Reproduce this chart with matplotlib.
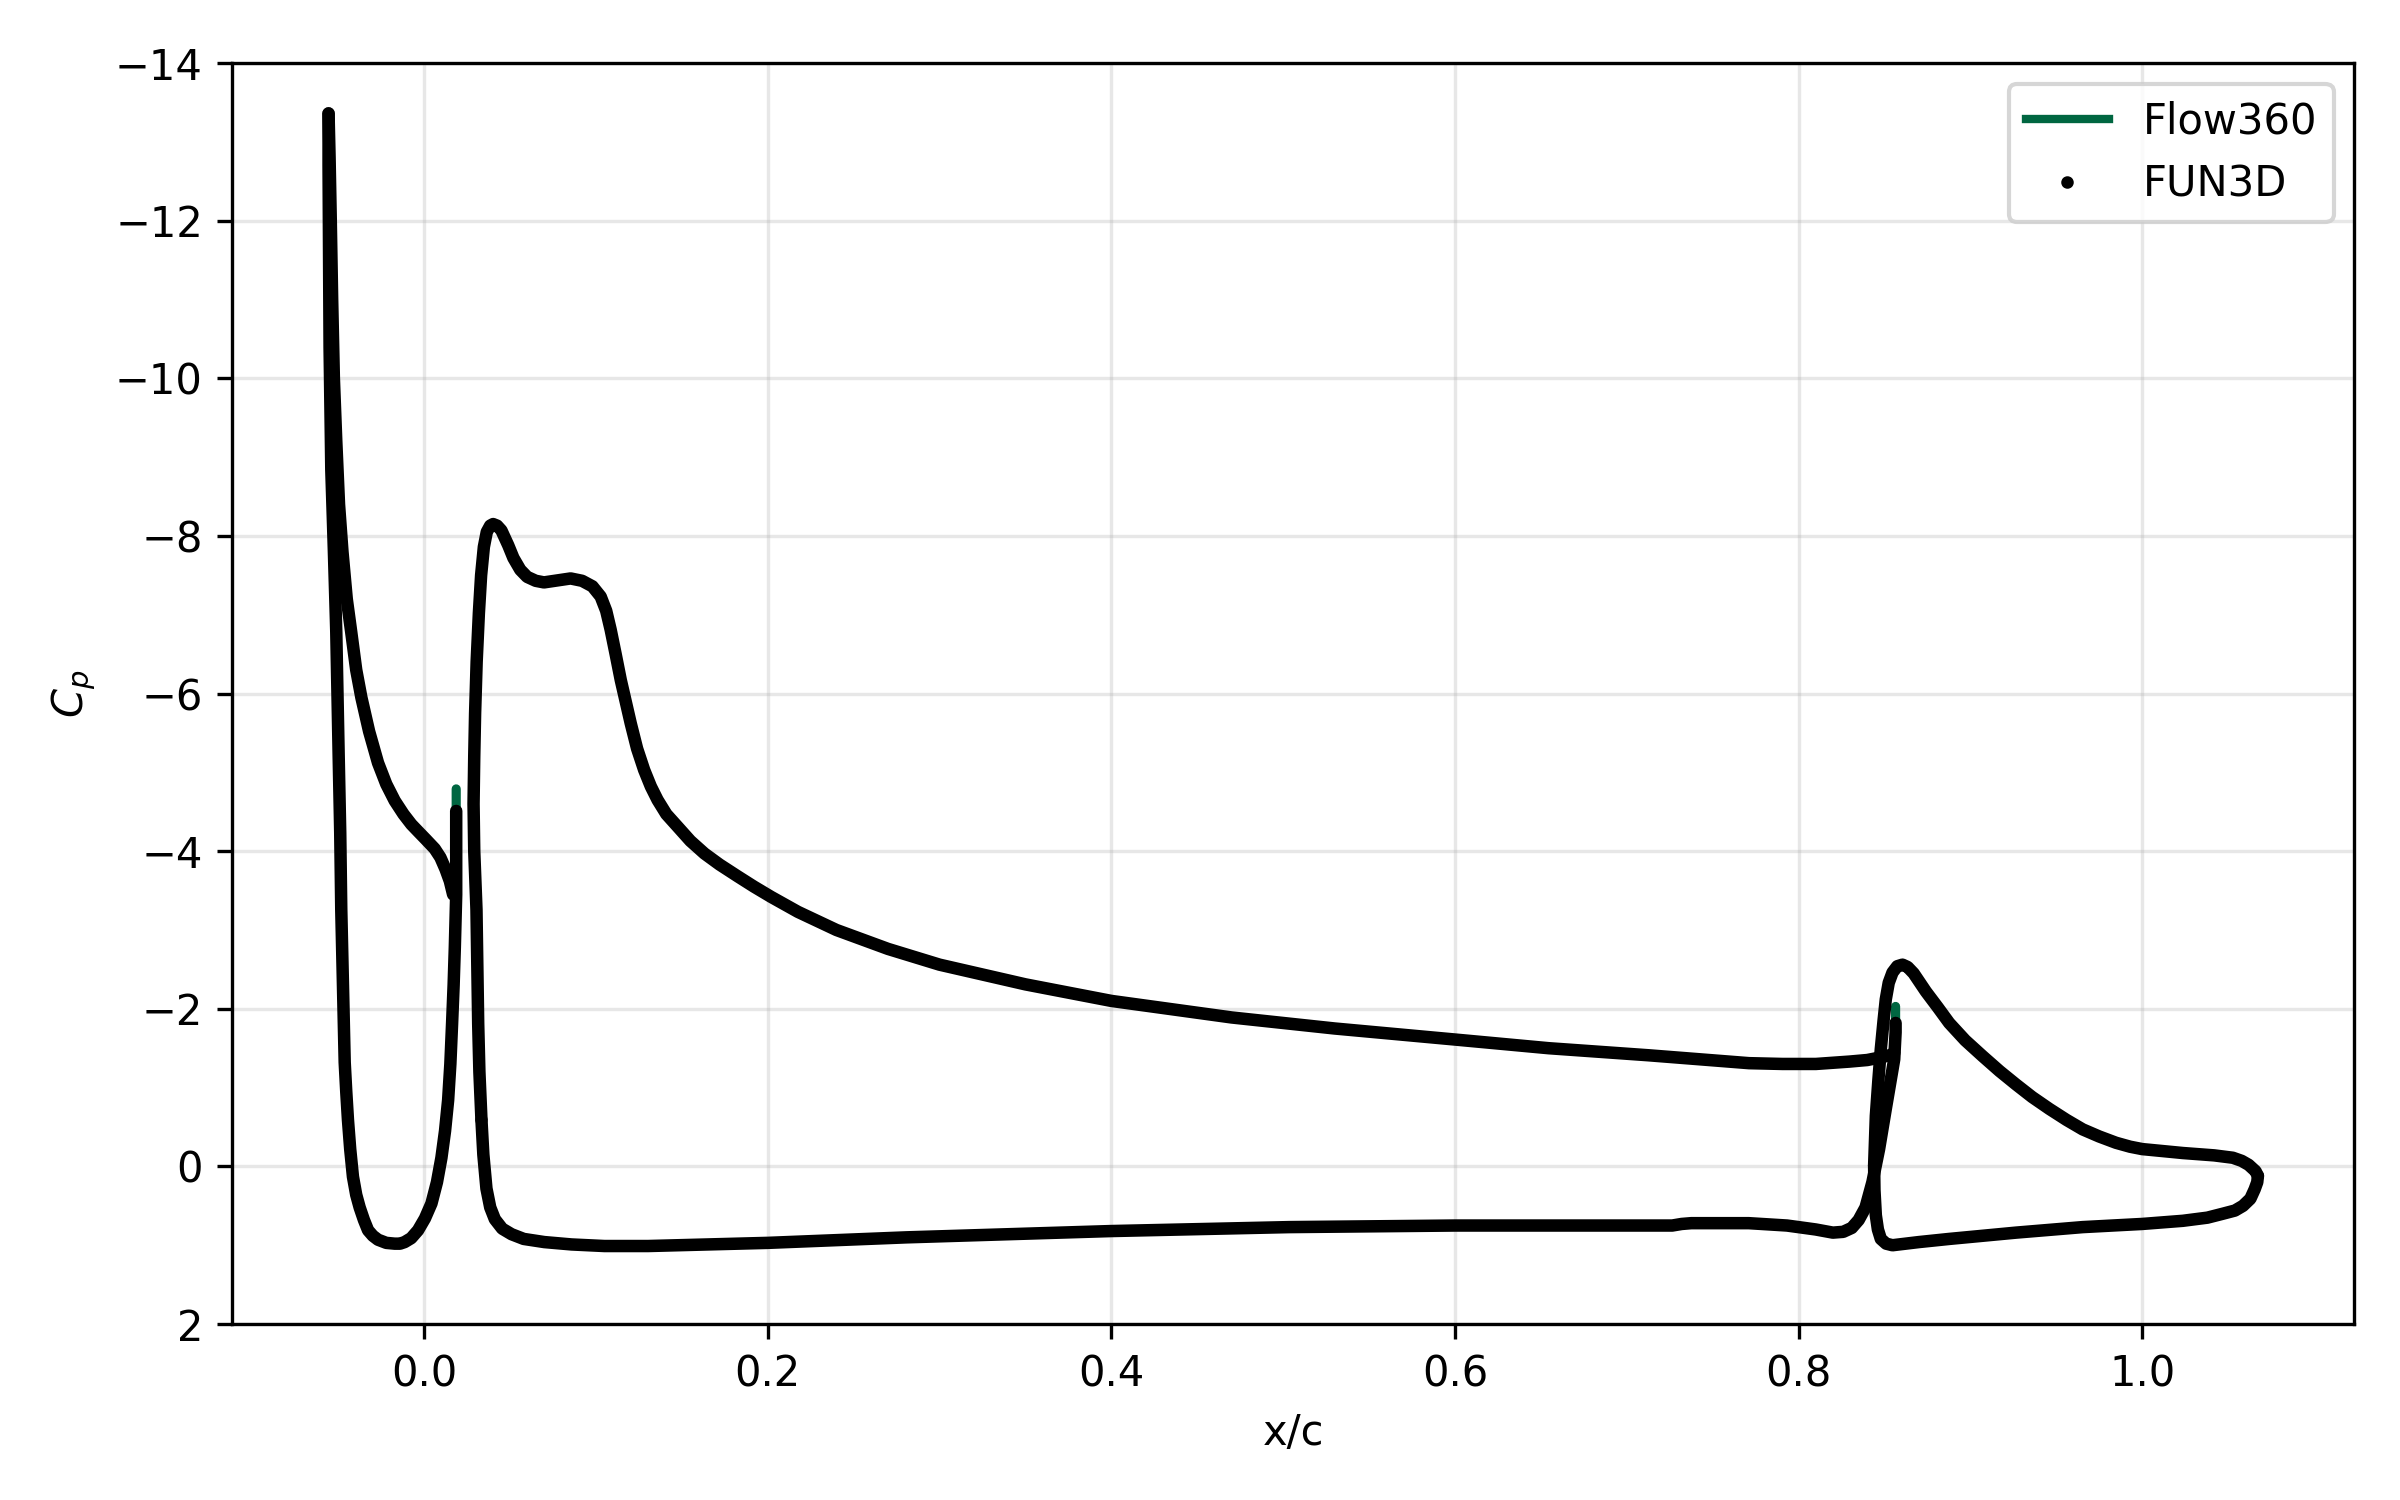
import matplotlib
matplotlib.use('Agg')
import matplotlib.pyplot as plt
from matplotlib.lines import Line2D

matplotlib.rcParams.update({'font.size': 10})

# Flow360 surface Cp, per element (x/c, Cp)
slat_upper_x = [-0.0556, -0.0550, -0.0543, -0.0535, -0.0525, -0.0511, -0.0495, -0.0475,
                -0.0450, -0.0424, -0.0395, -0.0365, -0.0320, -0.0268, -0.0220, -0.0171,
                -0.0120, -0.0074, -0.0030, 0.0010, 0.0062, 0.0095, 0.0125, 0.0150, 0.0169]
slat_upper_cp = [-13.36, -12.80, -12.00, -11.00, -10.00, -9.20, -8.40, -7.80,
                 -7.20, -6.78, -6.30, -5.95, -5.52, -5.12, -4.85, -4.64,
                 -4.47, -4.34, -4.24, -4.15, -4.03, -3.92, -3.77, -3.62, -3.45]

slat_lower_x = [-0.0556, -0.0556, -0.0550, -0.0540, -0.0525, -0.0511, -0.0497, -0.0488,
                -0.0482, -0.0472, -0.0462, -0.0453, -0.0443, -0.0430, -0.0414, -0.0395,
                -0.0375, -0.0350, -0.0326, -0.0298, -0.0268, -0.0220, -0.0171, -0.0140,
                -0.0113, -0.0075, -0.0035, 0.0005, 0.0043, 0.0075, 0.0101, 0.0122,
                0.0140, 0.0153, 0.0163, 0.0172, 0.0179, 0.0187, 0.0187]
slat_lower_cp = [-13.36, -12.71, -10.39, -8.84, -7.81, -6.78, -5.20, -4.23,
                 -3.26, -2.29, -1.32, -0.95, -0.59, -0.22, 0.13, 0.36,
                 0.52, 0.68, 0.81, 0.88, 0.93, 0.97, 0.98, 0.98,
                 0.96, 0.91, 0.81, 0.66, 0.47, 0.20, -0.11, -0.45,
                 -0.84, -1.30, -1.81, -2.30, -2.78, -3.45, -4.79]

main_upper_x = [0.0334, 0.0322, 0.0315, 0.0305, 0.0292, 0.0288, 0.0292, 0.0297, 0.0306,
                0.0319, 0.0332, 0.0348, 0.0365, 0.0385, 0.0402, 0.0425, 0.0450, 0.0490,
                0.0520, 0.0560, 0.0600, 0.0650, 0.0698, 0.0760, 0.0853, 0.0920, 0.0980,
                0.1028, 0.1060, 0.1086, 0.1115, 0.1145, 0.1203, 0.1240, 0.1281, 0.1320,
                0.1359, 0.1410, 0.1476, 0.1550, 0.1632, 0.1720, 0.1826, 0.1920, 0.2020,
                0.2176, 0.2400, 0.2700, 0.3000, 0.3500, 0.4000, 0.4700, 0.5300, 0.6000,
                0.6545, 0.7128, 0.7712, 0.7907, 0.8101, 0.8296, 0.8400, 0.8470, 0.8530,
                0.8557]
main_upper_cp = [-0.59, -1.20, -1.81, -3.26, -4.00, -4.60, -5.20, -5.75, -6.40,
                 -7.02, -7.50, -7.86, -8.05, -8.13, -8.15, -8.13, -8.07, -7.88,
                 -7.72, -7.57, -7.48, -7.43, -7.41, -7.43, -7.46, -7.43, -7.36,
                 -7.23, -7.05, -6.81, -6.50, -6.17, -5.62, -5.30, -5.03, -4.82,
                 -4.65, -4.47, -4.31, -4.13, -3.97, -3.83, -3.68, -3.55, -3.42,
                 -3.23, -3.00, -2.76, -2.56, -2.31, -2.10, -1.89, -1.75, -1.61,
                 -1.50, -1.41, -1.31, -1.30, -1.30, -1.33, -1.35, -1.38, -1.41,
                 -1.44]

main_lower_x = [0.0334, 0.0345, 0.0363, 0.0385, 0.0412, 0.0455, 0.0509, 0.0580, 0.0700,
                0.0858, 0.1050, 0.1304, 0.2000, 0.2808, 0.4000, 0.5036, 0.6000, 0.7265,
                0.7320, 0.7376, 0.7710, 0.7933, 0.8100, 0.8200, 0.8260, 0.8310, 0.8350,
                0.8390, 0.8430, 0.8469, 0.8508, 0.8547, 0.8557, 0.8565, 0.8565]
main_lower_cp = [-0.59, -0.15, 0.28, 0.52, 0.67, 0.79, 0.86, 0.92, 0.96,
                 0.99, 1.01, 1.01, 0.97, 0.90, 0.82, 0.77, 0.75, 0.75,
                 0.73, 0.72, 0.72, 0.75, 0.80, 0.84, 0.83, 0.78, 0.68,
                 0.52, 0.20, -0.22, -0.73, -1.23, -1.36, -1.70, -2.03]

flap_upper_x = [0.8440, 0.8450, 0.8465, 0.8479, 0.8495, 0.8508, 0.8525, 0.8547, 0.8575,
                0.8605, 0.8635, 0.8670, 0.8741, 0.8810, 0.8877, 0.8970, 0.9071, 0.9170,
                0.9266, 0.9360, 0.9460, 0.9560, 0.9654, 0.9750, 0.9848, 0.9930, 1.0000,
                1.0237, 1.0420, 1.0528, 1.0580, 1.0620, 1.0660, 1.0674]
flap_upper_cp = [-0.01, -0.64, -1.10, -1.49, -1.85, -2.12, -2.33, -2.46, -2.54,
                 -2.56, -2.53, -2.45, -2.22, -2.02, -1.82, -1.60, -1.40, -1.21,
                 -1.04, -0.88, -0.73, -0.59, -0.47, -0.38, -0.30, -0.25, -0.22,
                 -0.17, -0.14, -0.11, -0.07, -0.02, 0.06, 0.12]

flap_lower_x = [0.8440, 0.8442, 0.8450, 0.8462, 0.8479, 0.8510, 0.8547, 0.8700, 0.8877,
                0.9266, 0.9654, 1.0000, 1.0237, 1.0380, 1.0470, 1.0540, 1.0587, 1.0630,
                1.0655, 1.0670, 1.0674]
flap_lower_cp = [-0.01, 0.30, 0.62, 0.80, 0.92, 0.98, 1.00, 0.96, 0.92,
                 0.84, 0.77, 0.73, 0.69, 0.65, 0.60, 0.56, 0.50, 0.41,
                 0.29, 0.20, 0.12]

# FUN3D follows Flow360 everywhere except the trailing-edge spikes are shorter
fun3d_slat_te_cp = -4.51
fun3d_main_te_cp = -1.82

flow360_color = '#006641'

fig = plt.figure(figsize=(8, 5), dpi=300)
ax = fig.add_axes([0.0967, 0.1173, 0.8843, 0.8407])

flow_curves = [
    (slat_upper_x, slat_upper_cp),
    (slat_lower_x, slat_lower_cp),
    (main_upper_x, main_upper_cp),
    (main_lower_x, main_lower_cp),
    (flap_upper_x, flap_upper_cp),
    (flap_lower_x, flap_lower_cp),
]

fun3d_curves = [
    (slat_upper_x, slat_upper_cp),
    (slat_lower_x, slat_lower_cp[:-1] + [fun3d_slat_te_cp]),
    (main_upper_x, main_upper_cp),
    (main_lower_x, main_lower_cp[:-1] + [fun3d_main_te_cp]),
    (flap_upper_x, flap_upper_cp),
    (flap_lower_x, flap_lower_cp),
]

for x, cp in flow_curves:
    ax.plot(x, cp, color=flow360_color, lw=2.2, solid_capstyle='round', zorder=2)

for x, cp in fun3d_curves:
    ax.plot(x, cp, color='k', lw=3.0, solid_capstyle='round',
            solid_joinstyle='round', zorder=3)

# legend entries: line for Flow360, single dot for FUN3D
flow_handle = Line2D([], [], color=flow360_color, lw=2.0, label='Flow360')
fun3d_handle = Line2D([], [], color='k', marker='.', ms=4, linestyle='none', label='FUN3D')

ax.set_ylim(2, -14)
ax.set_yticks(range(-14, 3, 2))
ax.set_xticks([0.0, 0.2, 0.4, 0.6, 0.8, 1.0])
ax.grid(True, alpha=0.3)
ax.set_axisbelow(True)
ax.set_xlabel('x/c')
ax.set_ylabel('$C_p$')
ax.legend(handles=[flow_handle, fun3d_handle], loc='upper right')

fig.savefig('out.png', dpi=300)
